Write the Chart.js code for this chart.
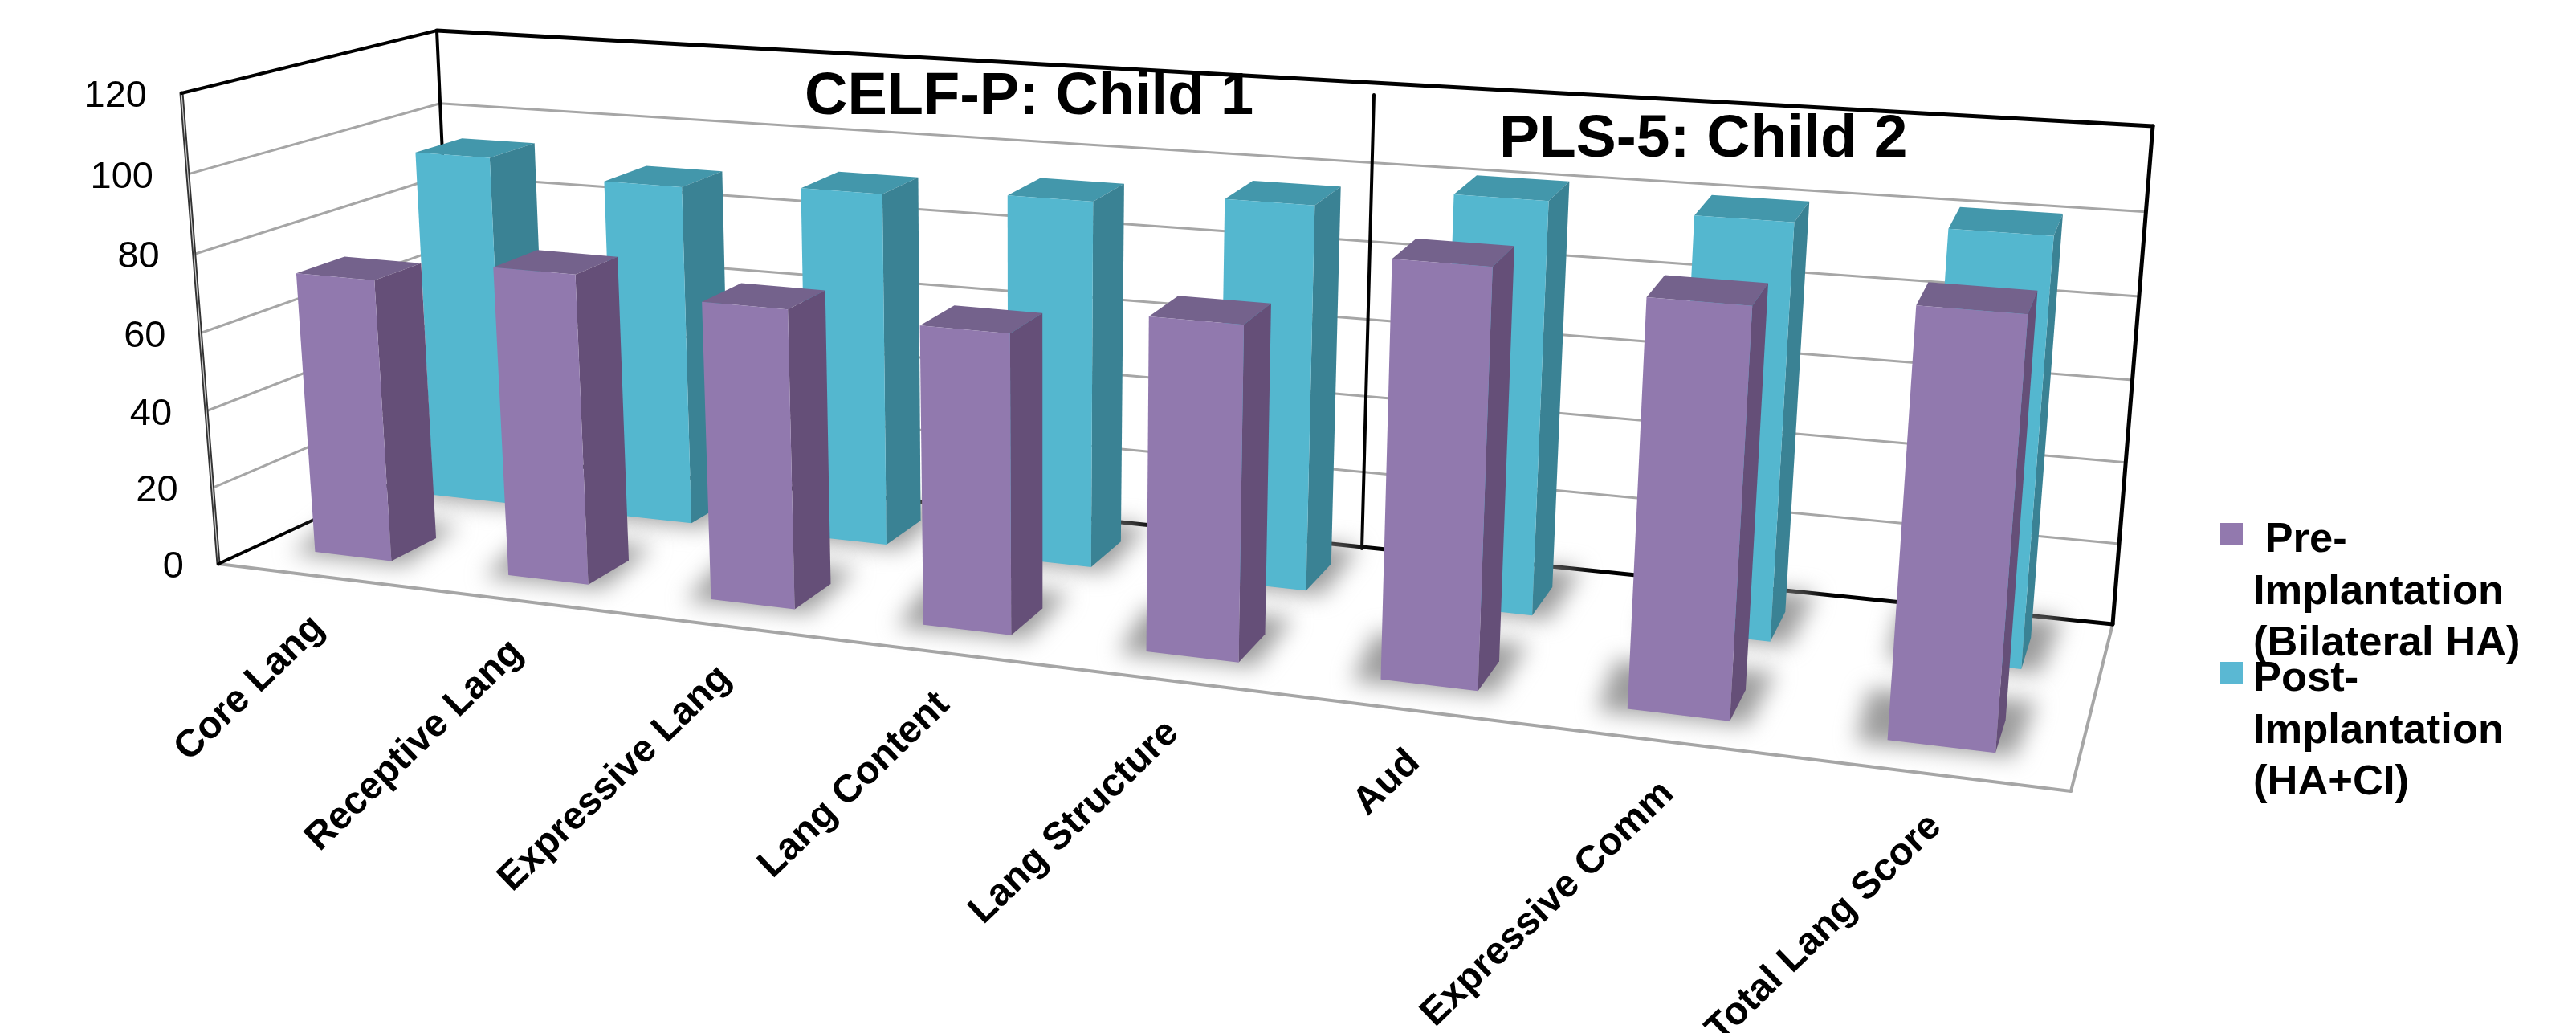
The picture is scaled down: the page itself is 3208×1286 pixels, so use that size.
<!DOCTYPE html>
<html>
<head>
<meta charset="utf-8">
<title>CELF-P and PLS-5 scores</title>
<script src="https://cdn.jsdelivr.net/npm/chart.js@4"></script>
<style>
  html, body { margin: 0; background: #fff; }
  canvas { display: block; }
</style>
</head>
<body>
<canvas id="scoreChart" width="3208" height="1286"></canvas>
<script>
const categories = [
  "Core Lang", "Receptive Lang", "Expressive Lang", "Lang Content",
  "Lang Structure", "Aud", "Expressive Comm", "Total Lang Score",
];
const preImplantation = [73, 79, 75, 74, 81, 99, 95, 98];
const postImplantation = [94, 90, 92, 94, 97, 102, 101, 102];
const preLegendLines = [" Pre-", "Implantation", "(Bilateral HA)"];
const postLegendLines = ["Post-", "Implantation", "(HA+CI)"];

const FONT = '"Liberation Sans", Arial, sans-serif';

// corners of the 3d box, f = front, k = back, b = floor, t = top, 0/1 = left/right
const box = {
  fb0: [272, 702], fb1: [2579, 985], kb0: [568, 565], kb1: [2631, 777],
  ft0: [226, 116], ft1: [2634, 295], kt0: [544, 38], kt1: [2681, 157],
};

// depth of each bar row on the floor, 0 = front edge, 1 = back wall
const rows = [
  { dataset: 1, w0: 0.68, w1: 0.87, front: "#54b7cf", top: "#4397ab", side: "#3a8294" },
  { dataset: 0, w0: 0.17, w1: 0.37, front: "#9179ae", top: "#74628c", side: "#654f78" },
];

const warp = (a, r) => a / (a + (1 - a) * r);
const mix = (p, q, t) => [p[0] + (q[0] - p[0]) * t, p[1] + (q[1] - p[1]) * t];

// u along the categories, v up the value axis, w into the depth
function project(u, v, w) {
  const s = warp(u, 1.22);
  const h = warp(v, 1.04);
  const bottom = mix(mix(box.fb0, box.fb1, s), mix(box.kb0, box.kb1, s), w);
  const top = mix(mix(box.ft0, box.ft1, s), mix(box.kt0, box.kt1, s), w);
  return mix(bottom, top, h);
}

function poly(ctx, pts, fill) {
  ctx.beginPath();
  pts.forEach((p, i) => (i ? ctx.lineTo(p[0], p[1]) : ctx.moveTo(p[0], p[1])));
  ctx.closePath();
  ctx.fillStyle = fill;
  ctx.fill();
}

function line(ctx, a, b, color, width) {
  ctx.beginPath();
  ctx.moveTo(a[0], a[1]);
  ctx.lineTo(b[0], b[1]);
  ctx.strokeStyle = color;
  ctx.lineWidth = width;
  ctx.lineCap = "round";
  ctx.stroke();
}

function drawWalls(chart, ctx) {
  const { chartArea: area, scales } = chart;
  const toV = (value) => (area.bottom - scales.y.getPixelForValue(value)) / area.height;

  scales.y.ticks.forEach((tick) => {
    if (tick.value === 0 || tick.value === 120) return;
    const v = toV(tick.value);
    line(ctx, project(0, v, 0), project(0, v, 1), "#a6a6a6", 3);
    line(ctx, project(0, v, 1), project(1, v, 1), "#a6a6a6", 3);
  });

  // floor front and right edges are light, the rest of the frame is black
  line(ctx, box.fb0, box.fb1, "#a6a6a6", 4);
  line(ctx, box.fb1, box.kb1, "#a6a6a6", 4);
  line(ctx, box.ft0, box.fb0, "#333", 5);
  line(ctx, box.ft0, box.fb0, "#ccc", 1.2);
  line(ctx, box.ft0, box.kt0, "#000", 4);
  line(ctx, box.fb0, box.kb0, "#000", 4);
  line(ctx, box.kt0, box.kb0, "#000", 4);
  line(ctx, box.kt0, box.kt1, "#000", 5);
  line(ctx, box.kt1, box.kb1, "#000", 5);
  line(ctx, box.kb0, box.kb1, "#000", 5);

  // divider between the two test groups
  line(ctx, [1711, 118], [1696, 683], "#000", 4);

  ctx.fillStyle = "#000";
  ctx.font = `47px ${FONT}`;
  ctx.textAlign = "right";
  ctx.textBaseline = "alphabetic";
  scales.y.ticks.forEach((tick) => {
    const p = project(0, toV(tick.value), 0);
    ctx.fillText(tick.label, p[0] - 43, p[1] + 17);
  });
}

function eachBar(chart, row, fn) {
  const { chartArea: area } = chart;
  chart.getDatasetMeta(row.dataset).data.forEach((el) => {
    fn({
      u0: (el.x - el.width / 2 - area.left) / area.width,
      u1: (el.x + el.width / 2 - area.left) / area.width,
      v: (area.bottom - el.y) / area.height,
    });
  });
}

// soft shadow around each footprint, a bit wider towards the right of the chart
function drawShadows(chart, ctx) {
  ctx.save();
  ctx.filter = "blur(14px)";
  rows.forEach((row) => {
    eachBar(chart, row, ({ u0, u1 }) => {
      const pad = 28 + 12 * u0;
      const fl = project(u0, 0, row.w0);
      const fr = project(u1, 0, row.w0);
      const br = project(u1, 0, row.w1);
      const bl = project(u0, 0, row.w1);
      poly(ctx, [
        [fl[0] - pad, fl[1] + 2],
        [fr[0] + pad * 0.6, fr[1] + 5],
        [br[0] + pad, br[1] - pad * 0.6],
        [bl[0] - pad, bl[1] - pad * 0.6],
      ], "#9c9c9c");
    });
  });
  ctx.restore();
}

function drawBars(chart, ctx) {
  rows.forEach((row) => {
    const { w0, w1 } = row;
    eachBar(chart, row, ({ u0, u1, v }) => {
      poly(ctx, [project(u0, v, w0), project(u1, v, w0), project(u1, v, w1), project(u0, v, w1)], row.top);
      poly(ctx, [project(u1, 0, w0), project(u1, 0, w1), project(u1, v, w1), project(u1, v, w0)], row.side);
      poly(ctx, [project(u0, 0, w0), project(u1, 0, w0), project(u1, v, w0), project(u0, v, w0)], row.front);
    });
  });
}

function drawLabels(chart, ctx) {
  const { chartArea: area, scales } = chart;
  ctx.fillStyle = "#000";

  ctx.font = `bold 48px ${FONT}`;
  ctx.textAlign = "right";
  ctx.textBaseline = "middle";
  categories.forEach((name, i) => {
    const u = (scales.x.getPixelForValue(i) - area.left) / area.width;
    const p = project(u, 0, 0);
    ctx.save();
    ctx.translate(p[0] + 5, p[1] + 58);
    ctx.rotate((-44 * Math.PI) / 180);
    ctx.fillText(name, 0, 0);
    ctx.restore();
  });

  ctx.textAlign = "left";
  ctx.textBaseline = "alphabetic";
  ctx.font = `bold 74px ${FONT}`;
  ctx.fillText("CELF-P: Child 1", 1002, 142);
  ctx.font = `bold 75px ${FONT}`;
  ctx.fillText("PLS-5: Child 2", 1867, 195);

  // legend, the line breaks are fixed
  const legend = [
    { lines: preLegendLines, color: chart.data.datasets[0].backgroundColor, y: 651 },
    { lines: postLegendLines, color: chart.data.datasets[1].backgroundColor, y: 824 },
  ];
  legend.forEach((item) => {
    ctx.fillStyle = item.color;
    ctx.fillRect(2765, item.y, 28, 28);
    ctx.fillStyle = "#000";
    ctx.font = `bold 52.5px ${FONT}`;
    item.lines.forEach((text, i) => ctx.fillText(text, 2806, item.y + 36 + i * 64.5));
  });
}

const box3d = {
  id: "box3d",
  beforeDatasetsDraw(chart) {
    const ctx = chart.ctx;
    ctx.save();
    drawWalls(chart, ctx);
    drawShadows(chart, ctx);
    drawBars(chart, ctx);
    drawLabels(chart, ctx);
    ctx.restore();
    return false; // flat bars are not wanted
  },
};

new Chart(document.getElementById("scoreChart"), {
  type: "bar",
  data: {
    labels: categories,
    datasets: [
      { label: "Pre-Implantation (Bilateral HA)", data: preImplantation, backgroundColor: "#9279ae" },
      { label: "Post-Implantation (HA+CI)", data: postImplantation, backgroundColor: "#5ab8d3" },
    ],
  },
  options: {
    responsive: false,
    animation: false,
    devicePixelRatio: 1,
    grouped: false,
    barPercentage: 0.4,
    categoryPercentage: 1,
    plugins: { legend: { display: false }, tooltip: { enabled: false } },
    scales: {
      x: { display: false },
      y: { display: false, min: 0, max: 120, ticks: { stepSize: 20 } },
    },
  },
  plugins: [box3d],
});
</script>
</body>
</html>
